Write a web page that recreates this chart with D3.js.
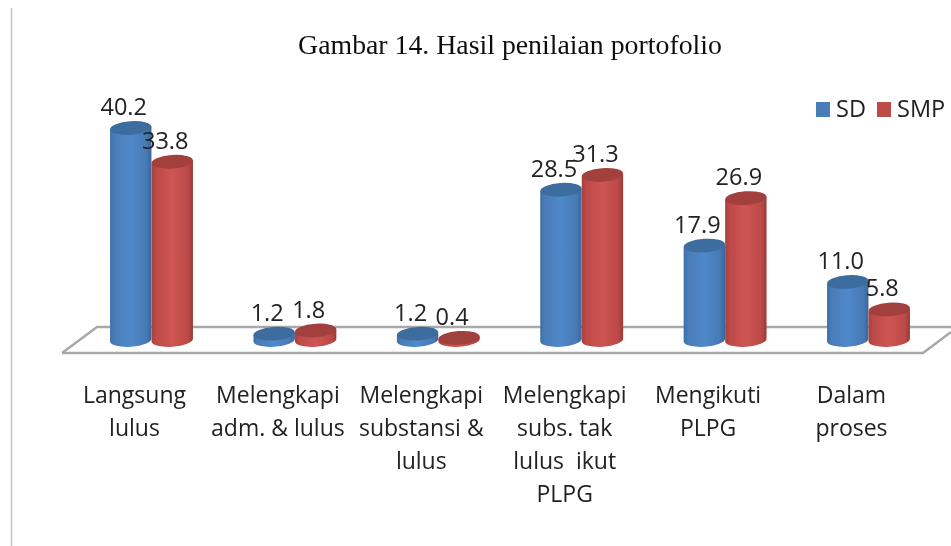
<!DOCTYPE html>
<html><head><meta charset="utf-8">
<script src="https://cdnjs.cloudflare.com/ajax/libs/d3/7.8.5/d3.min.js"></script>
<style>html,body{margin:0;padding:0;background:#fff}svg{display:block}</style></head>
<body><div id="c"></div>
<script>
const categories = [
  ["Langsung","lulus"],
  ["Melengkapi","adm. & lulus"],
  ["Melengkapi","substansi &","lulus"],
  ["Melengkapi","subs. tak","lulus  ikut","PLPG"],
  ["Mengikuti","PLPG"],
  ["Dalam","proses"]
];
const seriesNames = ["SD","SMP"];
const sdValues = [40.2,1.2,1.2,28.5,17.9,11.0];
const smpValues = [33.8,1.8,0.4,31.3,26.9,5.8];
const title = "Gambar 14. Hasil penilaian portofolio";

const W=951,H=546;
const svg=d3.select("#c").append("svg").attr("width",W).attr("height",H);
const defs=svg.append("defs");
defs.append("filter").attr("id","soft").append("feGaussianBlur").attr("stdDeviation",0.45);
function grad(id,stops){
  const g=defs.append("linearGradient").attr("id",id);
  stops.forEach(s=>g.append("stop").attr("offset",s[0]).attr("stop-color",s[1]));
}
grad("gb",[[0,"#3f70a9"],[0.12,"#4a7db8"],[0.5,"#5089ca"],[0.88,"#4779b4"],[1,"#3a6599"]]);
grad("gr",[[0,"#a8403e"],[0.12,"#bd4b48"],[0.5,"#cf5552"],[0.88,"#bb4a47"],[1,"#9a3a38"]]);
const fills={SD:"url(#gb)",SMP:"url(#gr)"}, tops={SD:"#3e6c9f",SMP:"#a13f3d"};
const root=svg.append("g").attr("filter","url(#soft)");

root.append("line").attr("x1",11.5).attr("x2",11.5).attr("y1",8).attr("y2",546).attr("stroke","#c4c4c4").attr("stroke-width",1.5);

const x=d3.scaleBand().domain(d3.range(categories.length)).range([79.8,940.2]);
const inner=d3.scaleBand().domain(seriesNames).range([0,83]);
const y=d3.scaleLinear().domain([0,40.2]).range([340,128]);
const groupC=i=>x(i)+x.bandwidth()/2;
const barC=(i,name)=>groupC(i)-41.5+inner(name)+inner.bandwidth()/2;

// floor
const floor=d3.line();
root.append("path").attr("d",floor([[62,353],[97,327],[951,327]]))
  .attr("fill","none").attr("stroke","#a8a8a8").attr("stroke-width",2.4);
root.append("path").attr("d",floor([[62,353],[923,353],[951,332]]))
  .attr("fill","none").attr("stroke","#a8a8a8").attr("stroke-width",2.4);

root.append("text").attr("x",510).attr("y",54).attr("text-anchor","middle")
  .attr("font-family","'Liberation Serif',serif").attr("font-size",27.8).attr("fill","#111").text(title);

const rx=20.7, ry=6.8, tilt=-4;
function cyl(g,cx,val,name){
  const top=y(val), base=y(0);
  const dy=rx*Math.tan(tilt*Math.PI/180);
  g.append("path")
    .attr("d",`M${cx-rx},${top-dy} L${cx-rx},${base-dy} A${rx},${ry} ${tilt} 0 0 ${cx+rx},${base+dy} L${cx+rx},${top+dy} Z`)
    .attr("fill",fills[name]);
  g.append("ellipse").attr("cx",cx).attr("cy",top).attr("rx",rx).attr("ry",ry)
    .attr("transform",`rotate(${tilt} ${cx} ${top})`).attr("fill",tops[name]);
}
const labelFont="'Open Sans','Noto Sans',sans-serif";
const series=[[sdValues,"SD"],[smpValues,"SMP"]];
series.forEach(([vals,name])=>{
  const g=root.append("g");
  vals.forEach((v,i)=>cyl(g,barC(i,name),v,name));
});
series.forEach(([vals,name])=>{
  vals.forEach((v,i)=>{
    root.append("text").attr("x",barC(i,name)-7).attr("y",y(v)-13)
      .attr("text-anchor","middle").attr("font-family",labelFont).attr("font-size",23.5).attr("fill","#222")
      .text(v.toFixed(1));
  });
});
categories.forEach((lines,i)=>{
  const t=root.append("text").attr("text-anchor","middle").attr("font-family",labelFont).attr("font-size",23).attr("fill","#222").style("white-space","pre");
  lines.forEach((l,j)=>t.append("tspan").attr("x",groupC(i)-17).attr("y",403+j*33).text(l));
});
// legend
const legendX=[816,877], legendC=["#4a7db8","#bd4b48"];
seriesNames.forEach((n,i)=>{
  root.append("rect").attr("x",legendX[i]).attr("y",102).attr("width",14).attr("height",15).attr("fill",legendC[i]);
  root.append("text").attr("x",legendX[i]+20).attr("y",117).attr("font-family",labelFont).attr("font-size",23.5).attr("fill","#222").text(n);
});
</script></body></html>
